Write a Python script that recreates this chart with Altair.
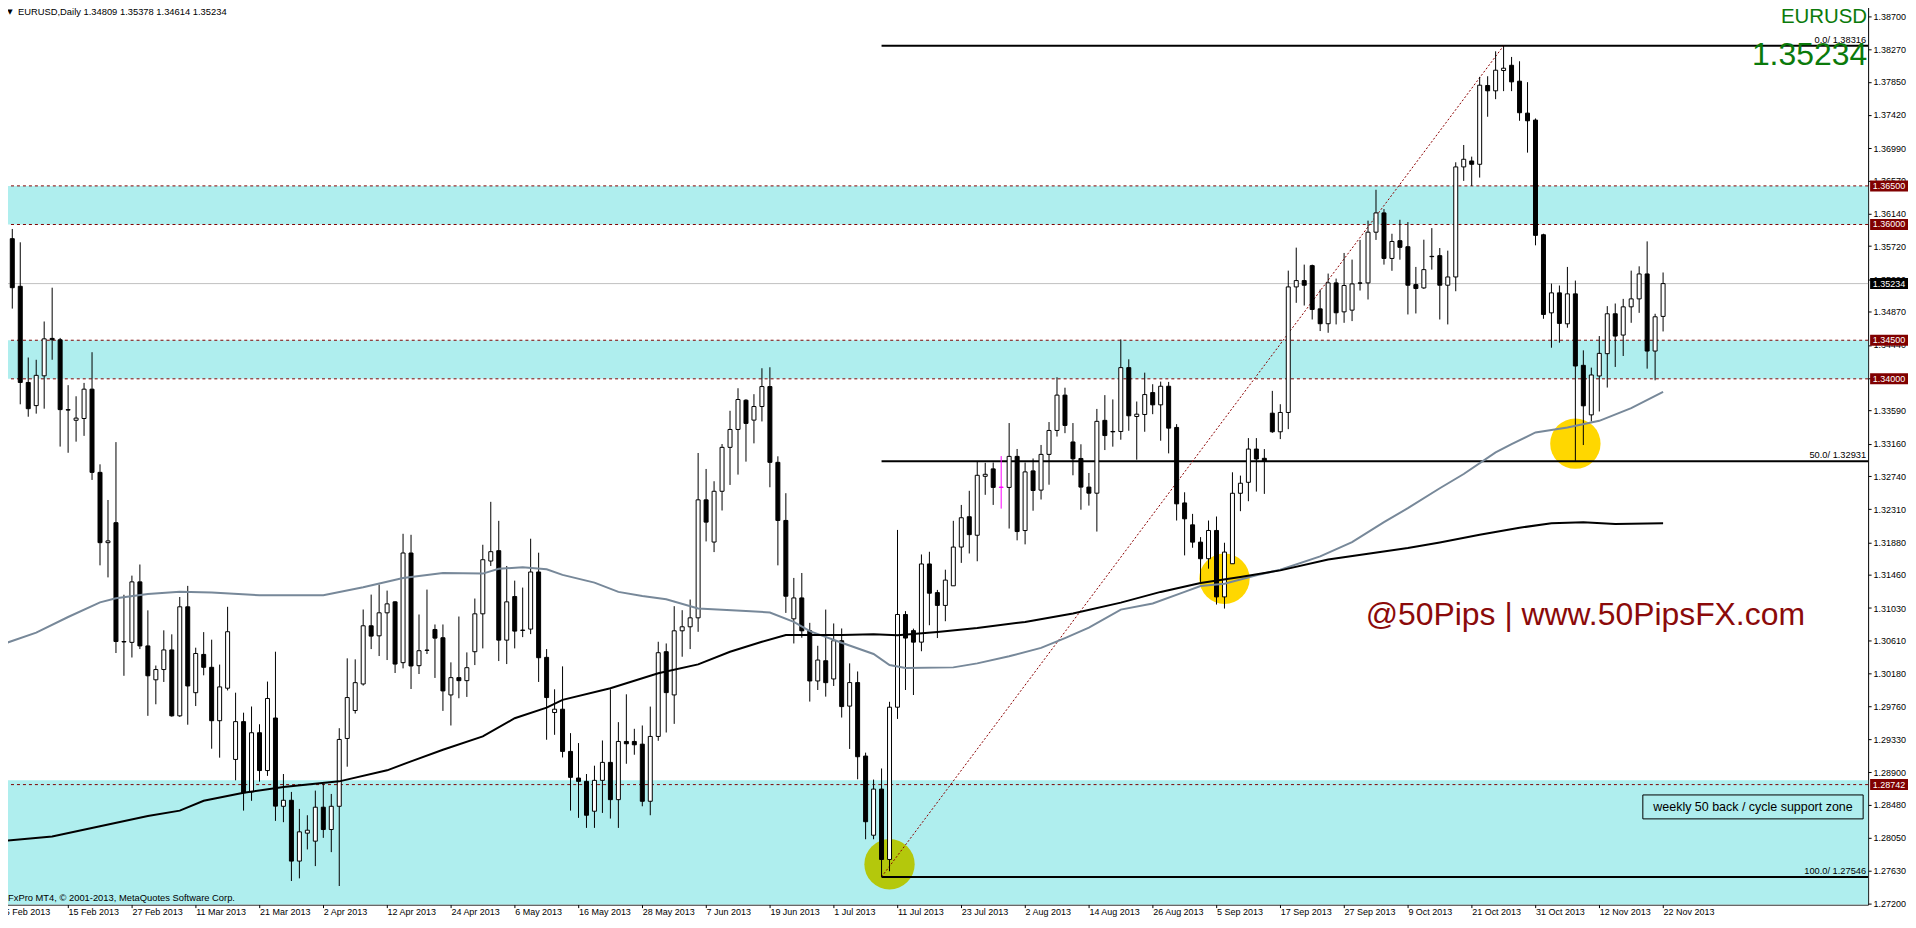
import altair as alt
import pandas as pd

# ---------------- data ----------------
date_labels = ["5 Feb 2013", "15 Feb 2013", "27 Feb 2013", "11 Mar 2013", "21 Mar 2013",
               "2 Apr 2013", "12 Apr 2013", "24 Apr 2013", "6 May 2013", "16 May 2013",
               "28 May 2013", "7 Jun 2013", "19 Jun 2013", "1 Jul 2013", "11 Jul 2013",
               "23 Jul 2013", "2 Aug 2013", "14 Aug 2013", "26 Aug 2013", "5 Sep 2013",
               "17 Sep 2013", "27 Sep 2013", "9 Oct 2013", "21 Oct 2013", "31 Oct 2013",
               "12 Nov 2013", "22 Nov 2013"]
label_every = 8

opens = [1.35124, 1.35816, 1.35199, 1.33953, 1.33653, 1.34039, 1.34524, 1.34506, 1.33601, 1.33463,
         1.33486, 1.33866, 1.32788, 1.31877, 1.32136, 1.30596, 1.30585, 1.31369, 1.30539, 1.30100,
         1.30233, 1.30487, 1.29633, 1.31046, 1.29933, 1.30429, 1.30262, 1.29570, 1.29991, 1.29068,
         1.29558, 1.28647, 1.29414, 1.28924, 1.29605, 1.28461, 1.28539, 1.27751, 1.28113, 1.28009,
         1.28449, 1.28160, 1.28461, 1.29340, 1.29702, 1.30046, 1.30800, 1.30670, 1.30968, 1.31110,
         1.30322, 1.31743, 1.30283, 1.30485, 1.30752, 1.30645, 1.29904, 1.30128, 1.30089, 1.30464,
         1.30955, 1.31639, 1.31773, 1.30614, 1.31179, 1.30744, 1.30757, 1.31497, 1.30391, 1.29676,
         1.29719, 1.29172, 1.28827, 1.28784, 1.28397, 1.28797, 1.29030, 1.28547, 1.29301, 1.29301,
         1.29266, 1.28526, 1.29366, 1.30464, 1.29904, 1.30735, 1.30787, 1.30903, 1.32432, 1.31885,
         1.32543, 1.33112, 1.33344, 1.33723, 1.33465, 1.33641, 1.33900, 1.32918, 1.32165, 1.30890,
         1.31161, 1.30735, 1.30085, 1.30347, 1.30111, 1.30606, 1.29759, 1.30064, 1.29112, 1.28086,
         1.28684, 1.27772, 1.29745, 1.30946, 1.30737, 1.30588, 1.31601, 1.31230, 1.31064, 1.31318,
         1.31820, 1.32213, 1.31973, 1.32737, 1.32833, 1.32597, 1.32593, 1.32995, 1.32034, 1.32807,
         1.32558, 1.33021, 1.33331, 1.33789, 1.33182, 1.32968, 1.32597, 1.32518, 1.33462, 1.33318,
         1.33318, 1.34145, 1.33512, 1.33538, 1.33822, 1.33663, 1.33904, 1.33370, 1.32392, 1.32108,
         1.31884, 1.31669, 1.32035, 1.31174, 1.31604, 1.32517, 1.32659, 1.33090, 1.32970, 1.33555,
         1.33314, 1.33564, 1.35191, 1.35273, 1.35467, 1.34907, 1.34714, 1.35243, 1.34868, 1.34890,
         1.35243, 1.35243, 1.35900, 1.36150, 1.35560, 1.35790, 1.35712, 1.35221, 1.35178, 1.35587,
         1.35596, 1.35213, 1.35320, 1.36746, 1.36823, 1.36780, 1.37801, 1.37732, 1.37995, 1.38063,
         1.37857, 1.37443, 1.37353, 1.35867, 1.34855, 1.35114, 1.34713, 1.35101, 1.34175, 1.33533,
         1.34037, 1.34326, 1.34843, 1.34567, 1.34933, 1.35036, 1.35359, 1.34360, 1.34809]
highs = [1.35960, 1.35942, 1.35769, 1.34276, 1.34247, 1.34743, 1.35181, 1.34530, 1.33918, 1.33774,
         1.33947, 1.34345, 1.32892, 1.32430, 1.33180, 1.31202, 1.31450, 1.31594, 1.31000, 1.30285,
         1.30741, 1.30689, 1.31173, 1.31317, 1.30516, 1.30718, 1.30620, 1.30297, 1.31046, 1.29933,
         1.29674, 1.29754, 1.29524, 1.30077, 1.30464, 1.28879, 1.28647, 1.28427, 1.28345, 1.28664,
         1.28750, 1.28621, 1.29473, 1.30378, 1.30365, 1.31011, 1.31204, 1.31334, 1.31256, 1.31118,
         1.31992, 1.31979, 1.30946, 1.31269, 1.30817, 1.30817, 1.30326, 1.30920, 1.30455, 1.31153,
         1.31850, 1.32406, 1.32160, 1.31575, 1.31385, 1.31295, 1.31928, 1.31747, 1.30498, 1.29977,
         1.30274, 1.29409, 1.29280, 1.28879, 1.28987, 1.29314, 1.29977, 1.29551, 1.29912, 1.29465,
         1.29508, 1.29753, 1.30593, 1.30571, 1.31054, 1.31002, 1.31140, 1.33039, 1.32832, 1.32673,
         1.33155, 1.33586, 1.33878, 1.33736, 1.33801, 1.34137, 1.34150, 1.32996, 1.32518, 1.31420,
         1.31484, 1.30838, 1.30541, 1.31010, 1.30830, 1.30765, 1.30313, 1.30208, 1.29156, 1.28807,
         1.28951, 1.29815, 1.32042, 1.30990, 1.30763, 1.31724, 1.31759, 1.31265, 1.31527, 1.32160,
         1.32366, 1.32549, 1.32925, 1.32912, 1.32916, 1.32999, 1.33427, 1.33091, 1.32916, 1.32968,
         1.33143, 1.33440, 1.34020, 1.33885, 1.33427, 1.33152, 1.32780, 1.33610, 1.33789, 1.33733,
         1.34511, 1.34253, 1.33706, 1.34080, 1.33930, 1.33964, 1.33960, 1.33413, 1.32530, 1.32250,
         1.31949, 1.32164, 1.32216, 1.31876, 1.32789, 1.32746, 1.33232, 1.33232, 1.33090, 1.33844,
         1.33671, 1.35402, 1.35700, 1.35480, 1.35480, 1.35157, 1.35364, 1.35299, 1.35631, 1.35545,
         1.35800, 1.36050, 1.36450, 1.36200, 1.35880, 1.36061, 1.36031, 1.35450, 1.35803, 1.35953,
         1.35695, 1.35661, 1.36806, 1.37030, 1.36879, 1.37913, 1.37921, 1.38244, 1.38316, 1.38171,
         1.38115, 1.37844, 1.37374, 1.35880, 1.35234, 1.35209, 1.35450, 1.35273, 1.34369, 1.34145,
         1.34554, 1.34942, 1.34976, 1.35036, 1.35402, 1.35458, 1.35781, 1.34843, 1.35378]
lows = [1.34558, 1.34910, 1.33670, 1.33509, 1.33549, 1.33613, 1.34247, 1.33122, 1.33042, 1.33186,
        1.33261, 1.32690, 1.31583, 1.31427, 1.30447, 1.30152, 1.30389, 1.30498, 1.29633, 1.29783,
        1.30072, 1.29622, 1.29620, 1.29518, 1.29760, 1.30158, 1.29207, 1.29091, 1.29962, 1.28797,
        1.28405, 1.28532, 1.28780, 1.28855, 1.28272, 1.28255, 1.27493, 1.27527, 1.27902, 1.27686,
        1.28052, 1.27867, 1.27428, 1.28974, 1.29663, 1.30025, 1.30498, 1.30408, 1.30356, 1.30188,
        1.30248, 1.29981, 1.30175, 1.30434, 1.30124, 1.29697, 1.29508, 1.29861, 1.29878, 1.30291,
        1.30507, 1.31575, 1.30343, 1.30304, 1.30507, 1.30653, 1.30692, 1.30072, 1.29323, 1.29387,
        1.29094, 1.28405, 1.28311, 1.28181, 1.28181, 1.28375, 1.28302, 1.28181, 1.29012, 1.29129,
        1.28461, 1.28345, 1.29310, 1.29417, 1.29529, 1.30399, 1.30498, 1.30722, 1.31893, 1.31755,
        1.32294, 1.32625, 1.32759, 1.32927, 1.33164, 1.33448, 1.32595, 1.31583, 1.30967, 1.30571,
        1.30645, 1.29818, 1.29968, 1.29882, 1.30020, 1.29611, 1.29204, 1.28811, 1.28034, 1.28034,
        1.27546, 1.27619, 1.29593, 1.29968, 1.29903, 1.30470, 1.30807, 1.30641, 1.30859, 1.31318,
        1.31615, 1.31737, 1.31636, 1.32497, 1.32366, 1.32318, 1.32060, 1.31907, 1.31855, 1.32291,
        1.32436, 1.32628, 1.33252, 1.33296, 1.32750, 1.32304, 1.32357, 1.32021, 1.33077, 1.33121,
        1.33211, 1.33327, 1.32952, 1.33314, 1.33542, 1.33198, 1.33034, 1.32164, 1.31712, 1.31811,
        1.31368, 1.31540, 1.31075, 1.31023, 1.31604, 1.32285, 1.32414, 1.32539, 1.32509, 1.33300,
        1.33219, 1.33348, 1.34985, 1.34950, 1.34769, 1.34619, 1.34597, 1.34705, 1.34726, 1.34748,
        1.35144, 1.35028, 1.35800, 1.35480, 1.35400, 1.35544, 1.34834, 1.34847, 1.35165, 1.35415,
        1.34769, 1.34705, 1.35135, 1.36565, 1.36500, 1.36608, 1.37396, 1.37624, 1.37728, 1.37728,
        1.37344, 1.36931, 1.35730, 1.34778, 1.34403, 1.34468, 1.34662, 1.32931, 1.33142, 1.33447,
        1.33577, 1.33887, 1.34154, 1.34296, 1.34726, 1.34855, 1.34132, 1.33981, 1.34614]
closes = [1.35816, 1.35181, 1.33953, 1.33613, 1.34045, 1.34518, 1.34506, 1.33601, 1.33595, 1.33491,
          1.33866, 1.32788, 1.31877, 1.31900, 1.30596, 1.30590, 1.31369, 1.30539, 1.30152, 1.30233,
          1.30487, 1.29633, 1.31046, 1.30020, 1.30441, 1.30262, 1.29570, 1.30008, 1.30723, 1.29558,
          1.28636, 1.29414, 1.28924, 1.29858, 1.28463, 1.28539, 1.27751, 1.28130, 1.28151, 1.28449,
          1.28160, 1.28461, 1.29327, 1.29870, 1.30063, 1.30800, 1.30666, 1.30968, 1.31084, 1.30304,
          1.31743, 1.30279, 1.30477, 1.30481, 1.30640, 1.29956, 1.30128, 1.30089, 1.30257, 1.30955,
          1.31656, 1.31760, 1.30614, 1.31110, 1.30731, 1.30740, 1.31497, 1.30386, 1.29870, 1.29719,
          1.29172, 1.28836, 1.28784, 1.28345, 1.28797, 1.29030, 1.28547, 1.29301, 1.29271, 1.29258,
          1.28526, 1.29366, 1.30451, 1.29934, 1.30735, 1.30787, 1.30903, 1.32432, 1.32143, 1.32543,
          1.33112, 1.33344, 1.33732, 1.33422, 1.33641, 1.33900, 1.32918, 1.32165, 1.31183, 1.31161,
          1.30735, 1.30085, 1.30356, 1.30063, 1.30606, 1.29753, 1.30064, 1.29103, 1.28261, 1.28684,
          1.27772, 1.29745, 1.30946, 1.30641, 1.30588, 1.31601, 1.31222, 1.31064, 1.31392, 1.31820,
          1.32200, 1.31981, 1.32750, 1.32763, 1.32593, 1.32593, 1.32995, 1.32021, 1.32794, 1.32553,
          1.33021, 1.33331, 1.33789, 1.33396, 1.32964, 1.32597, 1.32518, 1.33449, 1.33265, 1.33313,
          1.34145, 1.33521, 1.33542, 1.33796, 1.33663, 1.33904, 1.33361, 1.32380, 1.32186, 1.31884,
          1.31669, 1.32035, 1.31174, 1.31755, 1.32517, 1.32647, 1.33090, 1.32961, 1.32931, 1.33314,
          1.33564, 1.35191, 1.35273, 1.35213, 1.34899, 1.34714, 1.35243, 1.34856, 1.35209, 1.35230,
          1.35239, 1.35900, 1.36150, 1.35560, 1.35780, 1.35704, 1.35213, 1.35170, 1.35415, 1.35583,
          1.35213, 1.35320, 1.36746, 1.36845, 1.36780, 1.37805, 1.37732, 1.37999, 1.38025, 1.37848,
          1.37448, 1.37344, 1.35859, 1.34834, 1.35114, 1.34718, 1.35101, 1.34166, 1.33650, 1.34050,
          1.34330, 1.34843, 1.34554, 1.34933, 1.35036, 1.35359, 1.34360, 1.34804, 1.35234]
selected_bar = 125  # bar drawn in magenta

gray_ma_bars = [0, 4, 8, 12, 14, 18, 22, 26, 32, 36, 40, 45, 50, 55, 60, 62, 65, 68, 70, 74,
                77, 80, 83, 87, 93, 96, 99, 101, 105, 109, 111, 113, 119, 122, 126, 130, 133, 136,
                140, 144, 148, 150, 153, 157, 160, 165, 169, 173, 176, 180, 183, 187, 189, 192,
                196, 200, 204, 208]
gray_ma_vals = [1.30568, 1.30712, 1.30914, 1.31104, 1.31156, 1.31213, 1.31242, 1.31231, 1.31196,
                1.31196, 1.31196, 1.31299, 1.31420, 1.31484, 1.31476, 1.31540, 1.31557, 1.31532,
                1.31460, 1.31359, 1.31239, 1.31187, 1.31144, 1.31023, 1.30993, 1.30972, 1.30851,
                1.30731, 1.30580, 1.30435, 1.30291, 1.30252, 1.30261, 1.30313, 1.30405, 1.30514,
                1.30641, 1.30776, 1.31010, 1.31088, 1.31239, 1.31316, 1.31346, 1.31454, 1.31527,
                1.31699, 1.31885, 1.32143, 1.32324, 1.32582, 1.32767, 1.33047, 1.33155, 1.33305,
                1.33370, 1.33456, 1.33620, 1.33831]
black_ma_bars = [0, 6, 12, 18, 22, 25, 30, 35, 42, 48, 51, 55, 60, 64, 68, 70, 76, 82, 87, 91,
                 95, 98, 105, 109, 112, 117, 122, 128, 134, 140, 145, 150, 155, 160, 166, 171, 176,
                 180, 185, 190, 194, 198, 202, 208]
black_ma_vals = [1.28013, 1.28070, 1.28203, 1.28335, 1.28405, 1.28532, 1.28636, 1.28711, 1.28784,
                 1.28927, 1.29043, 1.29193, 1.29366, 1.29602, 1.29740, 1.29840, 1.29990, 1.30184,
                 1.30300, 1.30464, 1.30593, 1.30679, 1.30679, 1.30689, 1.30676, 1.30719, 1.30772,
                 1.30850, 1.30960, 1.31100, 1.31239, 1.31355, 1.31432, 1.31518, 1.31660, 1.31734,
                 1.31807, 1.31880, 1.31980, 1.32070, 1.32130, 1.32140, 1.32120, 1.32130]

price_top = 1.38890
price_bottom = 1.27187

zone_low = [1.36000, 1.34000, price_bottom]
zone_high = [1.36500, 1.34500, 1.28800]
level_values = [1.36500, 1.36000, 1.34500, 1.34000, 1.28742]
level_labels = ["1.36500", "1.36000", "1.34500", "1.34000", "1.28742"]
current_price = [1.35234]
current_label = ["1.35234"]

fib_levels = [1.38316, 1.32931, 1.27546]
fib_labels = ["0.0/ 1.38316", "50.0/ 1.32931", "100.0/ 1.27546"]
fib_start_bar = [110, 110, 110]
trend_bars = [110, 188]
trend_prices = [1.27546, 1.38316]

olive_circle_bar = [111]
olive_circle_price = [1.2771]
gold_circle_bars = [153, 197]
gold_circle_prices = [1.3141, 1.3316]

y_ticks = [1.38700, 1.38270, 1.37850, 1.37420, 1.36990, 1.36570, 1.36140, 1.35720, 1.35290,
           1.34870, 1.34440, 1.34010, 1.33590, 1.33160, 1.32740, 1.32310, 1.31880, 1.31460,
           1.31030, 1.30610, 1.30180, 1.29760, 1.29330, 1.28900, 1.28480, 1.28050, 1.27630,
           1.27200]

header_text = ["EURUSD,Daily  1.34809 1.35378 1.34614 1.35234"]
footer_text = ["FxPro MT4, \u00a9 2001-2013, MetaQuotes Software Corp."]
symbol_text = ["EURUSD"]
bid_text = ["1.35234"]
brand_text = ["@50Pips | www.50PipsFX.com"]
zone_note = ["weekly 50 back / cycle support zone"]

# ---------------- chart ----------------
W = 1872
H = 906
FONT = "Liberation Sans"
MAROON = "#800000"

xs = alt.Scale(domain=[-0.2875, 233.71], nice=False, zero=False, padding=0)
ys = alt.Scale(domain=[price_bottom, price_top], nice=False, zero=False, padding=0)

label_js = "[" + ",".join("'%s'" % d for d in date_labels) + "]"
x_axis = alt.Axis(values=[i * label_every for i in range(len(date_labels))],
                  labelExpr=label_js + "[round(datum.value / %d)]" % label_every,
                  orient="bottom", labelAlign="left", labelBaseline="top", tickSize=3,
                  labelPadding=0, domain=False, grid=False, labelOverlap=False,
                  labelFlush=False, labelBound=False, title=None)
y_axis = alt.Axis(values=y_ticks, format=".5f", orient="right", tickSize=3, labelPadding=2,
                  domain=False, grid=False, labelOverlap=False, labelFlush=False,
                  labelBound=False, title=None)


def X(f):
    return alt.X(f, type="quantitative", scale=xs, axis=x_axis, title=None)


def Y(f):
    return alt.Y(f, type="quantitative", scale=ys, axis=y_axis, title=None)


n = len(opens)
kinds = []
for i in range(n):
    if i == selected_bar:
        kinds.append("sel")
    elif closes[i] >= opens[i]:
        kinds.append("up")
    else:
        kinds.append("down")
candles = pd.DataFrame({"bar": list(range(n)), "open": opens, "high": highs,
                        "low": lows, "close": closes, "kind": kinds})

fill_scale = alt.Scale(domain=["up", "down", "sel"], range=["#ffffff", "#000000", "#ff00ff"])
stroke_scale = alt.Scale(domain=["up", "down", "sel"], range=["#000000", "#000000", "#ff00ff"])

zones = alt.Chart(pd.DataFrame({"lo": zone_low, "hi": zone_high})).mark_rect(
    color="#AFEEEE").encode(x=alt.value(0), x2=alt.value(W), y=Y("lo"), y2=alt.Y2("hi"))

bid_line = alt.Chart(pd.DataFrame({"p": current_price})).mark_rule(
    color="#C0C0C0", strokeWidth=1).encode(y=Y("p"))

levels = alt.Chart(pd.DataFrame({"p": level_values})).mark_rule(
    color=MAROON, strokeWidth=1, strokeDash=[3, 3]).encode(y=Y("p"))

olive = alt.Chart(pd.DataFrame({"b": olive_circle_bar, "p": olive_circle_price})).mark_circle(
    size=2550, color="#B4C80C", opacity=1).encode(x=X("b"), y=Y("p"))
gold = alt.Chart(pd.DataFrame({"b": gold_circle_bars, "p": gold_circle_prices})).mark_circle(
    size=2550, color="#FFD700", opacity=1).encode(x=X("b"), y=Y("p"))

fib_df = pd.DataFrame({"b": fib_start_bar, "p": fib_levels, "t": fib_labels})
fib_lines = alt.Chart(fib_df).mark_rule(color="black", strokeWidth=2).encode(
    x=X("b"), x2=alt.value(W), y=Y("p"))
fib_text = alt.Chart(fib_df).mark_text(
    align="right", baseline="bottom", dy=-1, font=FONT, fontSize=9.3, color="black").encode(
    x=alt.value(W - 2), y=Y("p"), text="t:N")

trend = alt.Chart(pd.DataFrame({"b": trend_bars, "p": trend_prices})).mark_line(
    color="#8B0000", strokeWidth=1, strokeDash=[2, 2]).encode(x=X("b"), y=Y("p"))

wicks = alt.Chart(candles).mark_rule(strokeWidth=1).encode(
    x=X("bar"), y=Y("low"), y2=alt.Y2("high"),
    stroke=alt.Stroke("kind:N", scale=stroke_scale, legend=None))
bodies = alt.Chart(candles).mark_bar(size=4, strokeWidth=1).encode(
    x=X("bar"), y=Y("open"), y2=alt.Y2("close"),
    fill=alt.Fill("kind:N", scale=fill_scale, legend=None),
    stroke=alt.Stroke("kind:N", scale=stroke_scale, legend=None))

gray_ma = alt.Chart(pd.DataFrame({"b": gray_ma_bars, "v": gray_ma_vals})).mark_line(
    color="#778899", strokeWidth=2).encode(x=X("b"), y=Y("v"))
black_ma = alt.Chart(pd.DataFrame({"b": black_ma_bars, "v": black_ma_vals})).mark_line(
    color="#000000", strokeWidth=2).encode(x=X("b"), y=Y("v"))

# price tags on the right scale
lvl_df = pd.DataFrame({"p": level_values, "t": level_labels})
lvl_tags = alt.Chart(lvl_df).mark_bar(orient="horizontal", size=11, color=MAROON).encode(
    x=alt.value(W + 2), x2=alt.value(W + 40), y=Y("p"))
lvl_tag_text = alt.Chart(lvl_df).mark_text(
    color="white", font=FONT, fontSize=9, align="center", baseline="middle").encode(
    x=alt.value(W + 21), y=Y("p"), text="t:N")
bid_df = pd.DataFrame({"p": current_price, "t": current_label})
bid_tag = alt.Chart(bid_df).mark_bar(orient="horizontal", size=11, color="black").encode(
    x=alt.value(W + 2), x2=alt.value(W + 40), y=Y("p"))
bid_tag_text = alt.Chart(bid_df).mark_text(
    color="white", font=FONT, fontSize=9, align="center", baseline="middle").encode(
    x=alt.value(W + 21), y=Y("p"), text="t:N")


def label(txt, x, y, **kw):
    return alt.Chart(pd.DataFrame({"t": txt})).mark_text(**kw).encode(
        x=alt.value(x), y=alt.value(y), text="t:N")


header_tri = label(["\u25bc"], 8, 11, font="DejaVu Sans", fontSize=7, color="black",
                   align="center", baseline="middle")
header = label(header_text, 16, 11, font=FONT, fontSize=9.4, color="black",
               align="left", baseline="middle")
footer = label(footer_text, 6, 902, font=FONT, fontSize=9.4, color="black",
               align="left", baseline="alphabetic")
symbol = label(symbol_text, W - 1, 22, font=FONT, fontSize=20.5, color="#0B7A0B",
               align="right", baseline="alphabetic")
bid_big = label(bid_text, W - 1, 64, font=FONT, fontSize=32, color="#0B7A0B",
                align="right", baseline="alphabetic")
brand = label(brand_text, 1368, 626, font=FONT, fontSize=32, color="#8B0A0A",
              align="left", baseline="alphabetic")
note_box = alt.Chart(pd.DataFrame({"t": zone_note})).mark_rect(
    fillOpacity=0, stroke="black", strokeWidth=1).encode(
    x=alt.value(1646), x2=alt.value(1867), y=alt.value(796), y2=alt.value(820))
note = label(zone_note, 1756.5, 808, font=FONT, fontSize=12.5, color="black",
             align="center", baseline="middle")

chart = alt.layer(
    zones, bid_line, levels, olive, gold, fib_lines, trend,
    wicks, bodies, gray_ma, black_ma, fib_text,
    lvl_tags, lvl_tag_text, bid_tag, bid_tag_text,
    header_tri, header, footer, symbol, bid_big, brand, note_box, note
).properties(
    width=W, height=H,
    padding={"left": -8, "top": -8, "right": 0, "bottom": 0},
    background="white"
).configure_axis(
    labelFont=FONT, labelFontSize=9, labelColor="black", tickColor="black", tickWidth=1
).configure_view(stroke="black", strokeWidth=1)

chart.save("out.html", embed_options={"renderer": "svg", "actions": False})
